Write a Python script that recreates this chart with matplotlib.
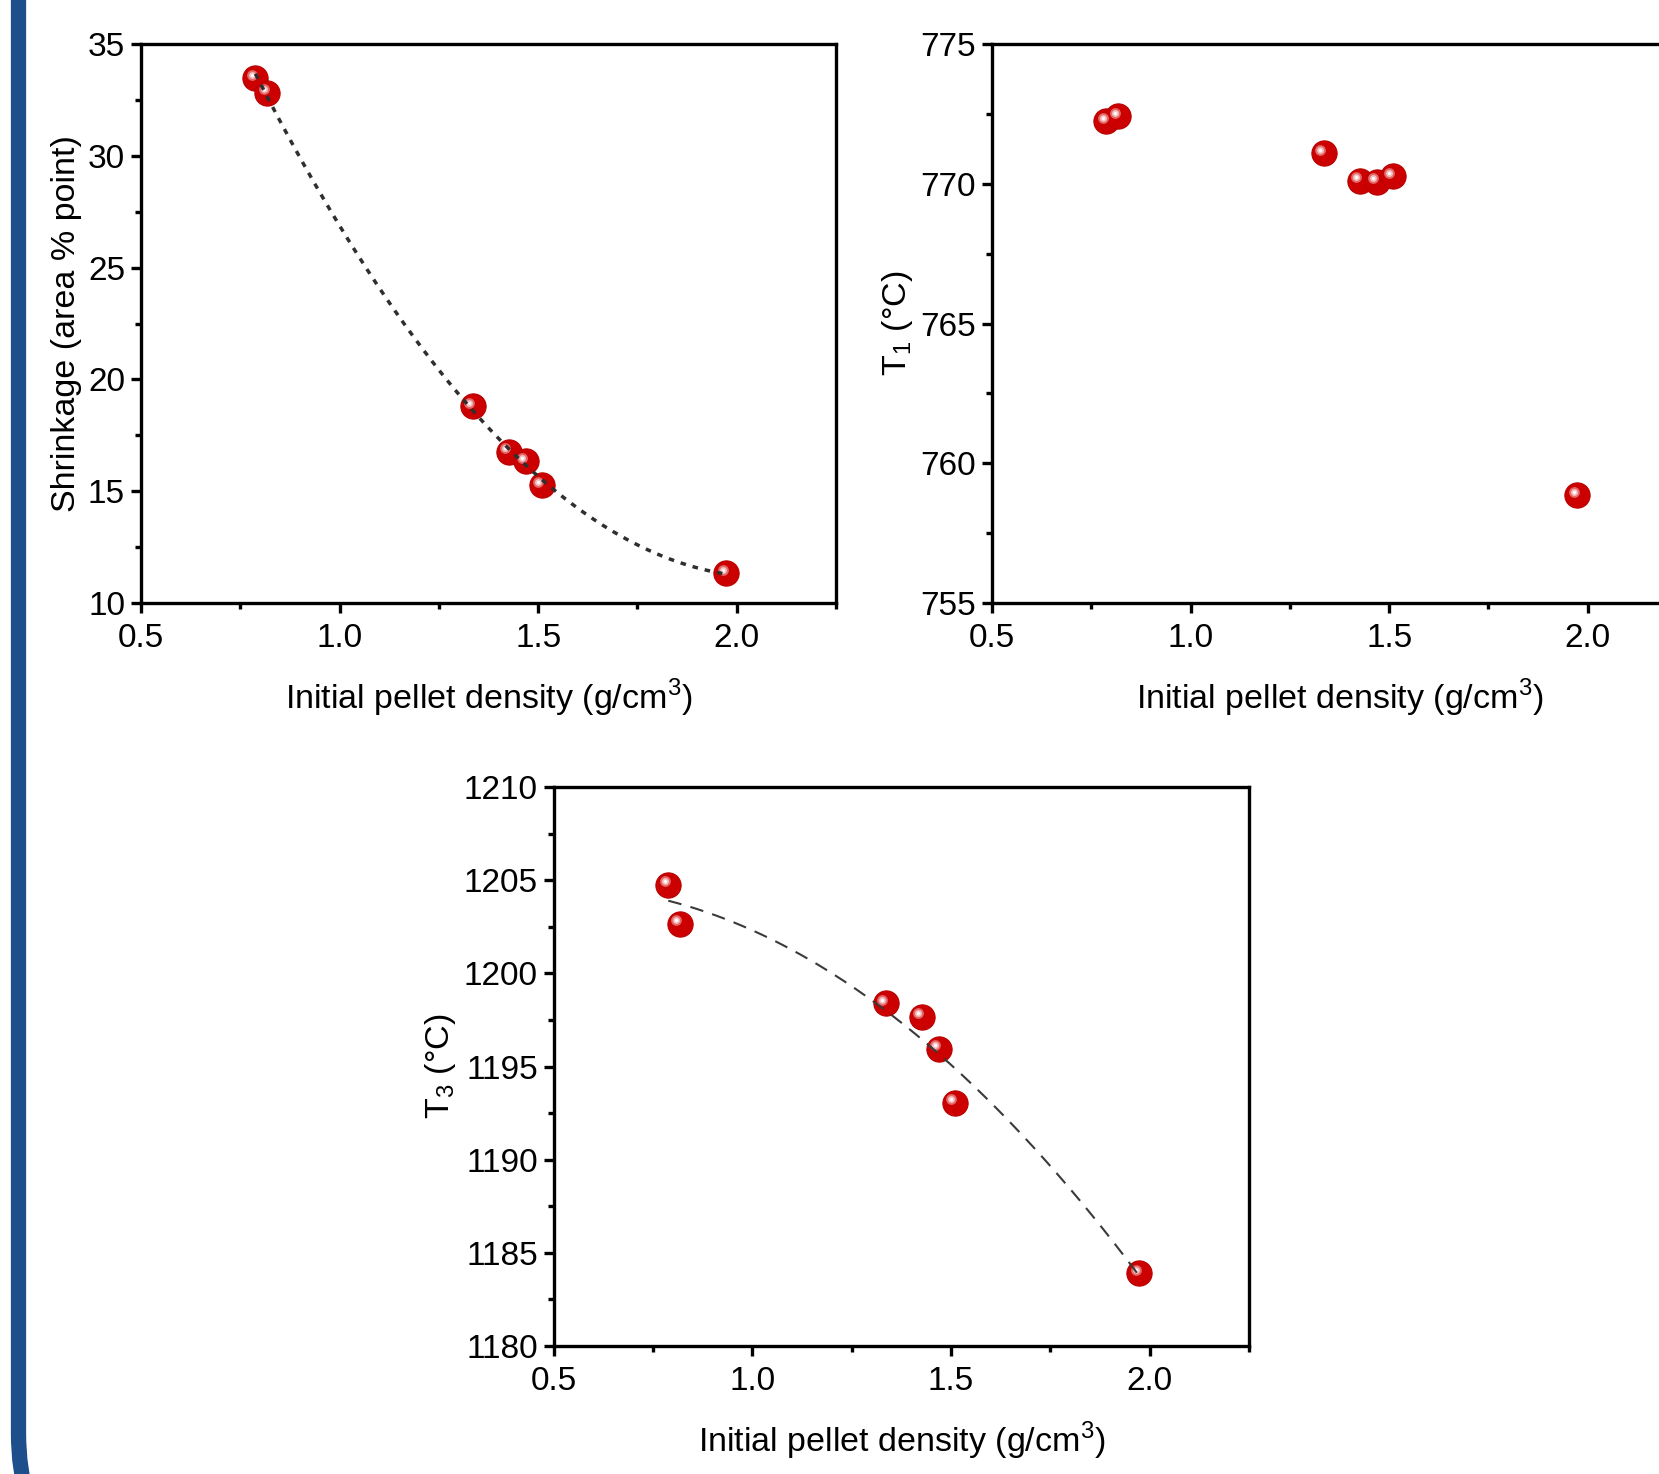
import numpy as np
import matplotlib
matplotlib.use('Agg')
import matplotlib.pyplot as plt
from matplotlib.patches import FancyBboxPatch
from matplotlib.transforms import Affine2D, offset_copy
from matplotlib.ticker import MultipleLocator

plt.rcParams['font.family'] = ['Liberation Sans', 'DejaVu Sans']
plt.rcParams['mathtext.fontset'] = 'custom'
plt.rcParams['mathtext.rm'] = 'Liberation Sans'

# Initial pellet density (g/cm3) for each sample
density = [0.788, 0.818, 1.335, 1.426, 1.469, 1.509, 1.974]
# Shrinkage (area % point)
shrinkage = [33.48, 32.82, 18.81, 16.77, 16.34, 15.26, 11.33]
# First transition temperature T1 (°C)
t1 = [772.23, 772.42, 771.10, 770.11, 770.08, 770.27, 758.86]
# Third transition temperature T3 (°C)
t3 = [1204.77, 1202.67, 1198.41, 1197.67, 1195.97, 1193.07, 1183.92]

W, H = 1659, 1474
fig = plt.figure(figsize=(W / 100, H / 100), dpi=100)

xlabel = 'Initial pellet density (g/cm$^\\mathregular{3}$)'


def make_axes(rect, ylim, ylabel):
    ax = fig.add_axes(rect)
    ax.set_xlim(0.5, 2.25)
    ax.set_ylim(*ylim)
    ax.xaxis.set_major_locator(MultipleLocator(0.5))
    ax.xaxis.set_minor_locator(MultipleLocator(0.25))
    ax.yaxis.set_major_locator(MultipleLocator(5))
    ax.yaxis.set_minor_locator(MultipleLocator(2.5))
    for s in ax.spines.values():
        s.set_linewidth(2.4)
    ax.tick_params(which='major', direction='out', length=7.5, width=2.4,
                   labelsize=24, pad=4, top=False, right=False)
    ax.tick_params(axis='x', which='major', pad=7)
    ax.tick_params(which='minor', direction='out', length=4.5, width=2.4,
                   top=False, right=False)
    ax.set_xlabel(xlabel, fontsize=24.5, labelpad=16)
    ax.set_ylabel(ylabel, fontsize=24.5, labelpad=4)
    return ax


def spheres(ax, x, y):
    # red balls with a glossy highlight
    ax.scatter(x, y, s=330, color='#cc0000', edgecolors='#b80000',
               linewidths=0.8, zorder=3, clip_on=False)
    hl = offset_copy(ax.transData, fig=fig, x=-2.7, y=2.5, units='points')
    ax.scatter(x, y, s=60, color='#e36a6a', linewidths=0, zorder=4,
               transform=hl, clip_on=False)
    ax.scatter(x, y, s=24, color='#f6c4c4', linewidths=0, zorder=4,
               transform=hl, clip_on=False)
    ax.scatter(x, y, s=5, color='white', linewidths=0, zorder=5,
               transform=hl, clip_on=False)


def fit_curve(ax, x, y, **kw):
    c = np.polyfit(x, y, 2)
    xs = np.linspace(min(x), max(x), 200)
    ax.plot(xs, np.polyval(c, xs), zorder=6, **kw)


ax1 = make_axes([0.0850, 0.5909, 0.4189, 0.3792], (10, 35),
                'Shrinkage (area % point)')
spheres(ax1, density, shrinkage)
fit_curve(ax1, density, shrinkage, color='#2f2f2f', lw=2.5,
          linestyle=(0, (1.6, 2.0)))

ax2 = make_axes([0.5980, 0.5909, 0.4189, 0.3792], (755, 775),
                'T$_\\mathregular{1}$ (°C)')
spheres(ax2, density, t1)

ax3 = make_axes([0.3339, 0.0868, 0.4189, 0.3792], (1180, 1210),
                'T$_\\mathregular{3}$ (°C)')
spheres(ax3, density, t3)
fit_curve(ax3, density, t3, color='#3a3a3a', lw=1.5,
          linestyle=(0, (6.5, 4.5)))

# blue frame on the left edge, rounded at the bottom
px = Affine2D().scale(1 / W, 1 / H) + fig.transFigure
frame = FancyBboxPatch((18.5, -109), 3000, 1800,
                       boxstyle='round,pad=0,rounding_size=150',
                       facecolor='none', edgecolor='#1c4f8c',
                       linewidth=11, transform=px)
fig.add_artist(frame)

fig.savefig('out.png', dpi=100)
